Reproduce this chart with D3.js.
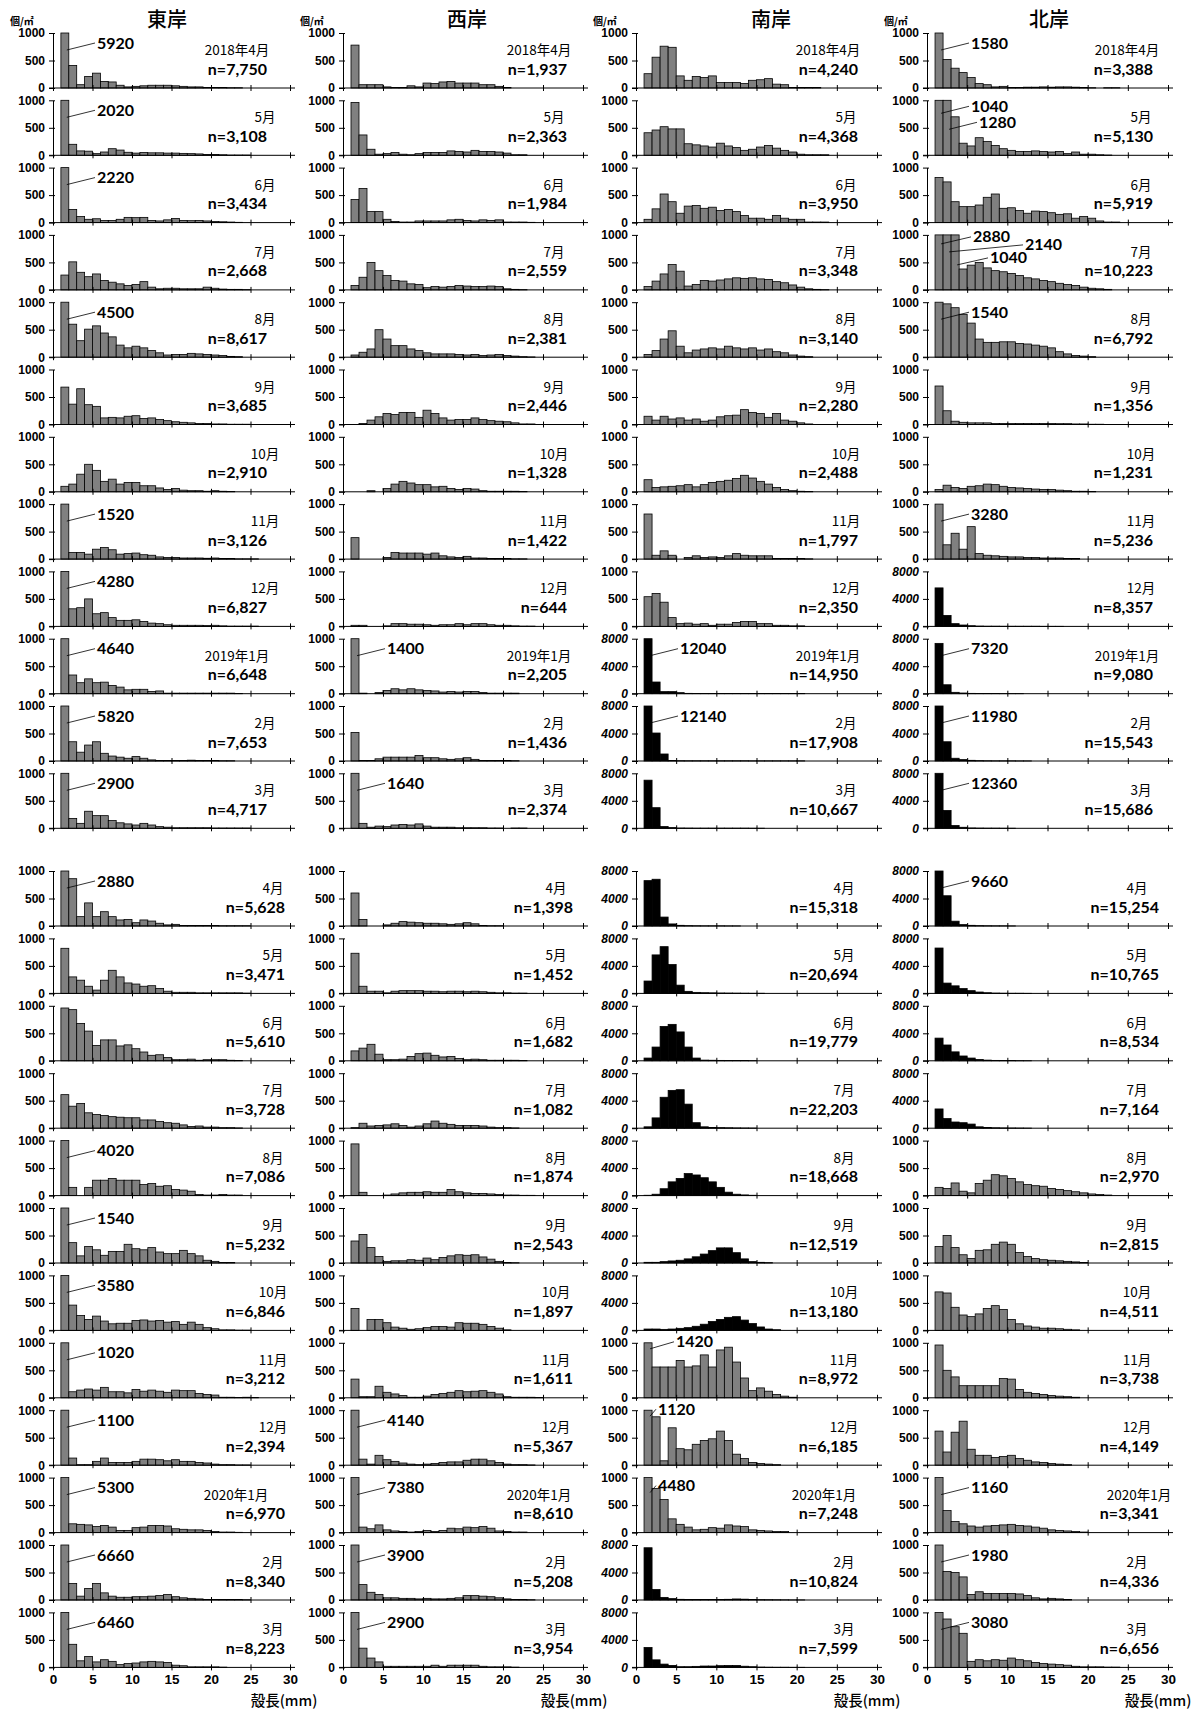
<!DOCTYPE html>
<html><head><meta charset="utf-8">
<script src="https://cdn.jsdelivr.net/npm/d3@7"></script>
<style>
body{margin:0;background:#fff;}
svg{display:block;}
.tk{font-family:'Liberation Sans Narrow','Liberation Sans',Arial,sans-serif;font-weight:bold;font-stretch:condensed;}
.num{font-family:Lato,'Open Sans',sans-serif;font-weight:bold;}
.jp{font-family:'Noto Sans CJK JP',sans-serif;}
</style></head><body>
<script>
// ---------------- DATA ----------------
const regions = ["東岸","西岸","南岸","北岸"];
const monthLabels = ["2018年4月","5月","6月","7月","8月","9月","10月","11月","12月","2019年1月","2月","3月",
                     "4月","5月","6月","7月","8月","9月","10月","11月","12月","2020年1月","2月","3月"];
const xTicks = [0,5,10,15,20,25,30];
const yTicksSmall = [0,500,1000];
const yTicksLarge = [0,4000,8000];
const binStart = 1; // first class: 1–2 mm, 1 mm classes

const nEast  = [7750,3108,3434,2668,8617,3685,2910,3126,6827,6648,7653,4717,5628,3471,5610,3728,7086,5232,6846,3212,2394,6970,8340,8223];
const nWest  = [1937,2363,1984,2559,2381,2446,1328,1422,644,2205,1436,2374,1398,1452,1682,1082,1874,2543,1897,1611,5367,8610,5208,3954];
const nSouth = [4240,4368,3950,3348,3140,2280,2488,1797,2350,14950,17908,10667,15318,20694,19779,22203,18668,12519,13180,8972,6185,7248,10824,7599];
const nNorth = [3388,5130,5919,10223,6792,1356,1231,5236,8357,9080,15543,15686,15254,10765,8534,7164,2970,2815,4511,3738,4149,3341,4336,6656];

// rows drawn on the 0–8000 scale (black bars)
const largeSouth = [9,10,11,12,13,14,15,16,17,18,22,23];
const largeNorth = [8,9,10,11,12,13,14,15];

const east = [
[5920,410,60,210,270,120,110,50,20,30,40,50,50,50,40,30,20,20,10,10,10,5,5],
[2020,200,80,75,30,60,120,95,55,40,50,45,45,40,40,35,30,25,15,15,10,5,5,5],
[2220,240,110,60,70,40,40,60,95,90,95,40,30,50,75,40,35,40,30,20,15,10,5],
[270,510,320,240,290,170,140,110,80,100,150,50,20,30,30,20,20,20,50,30,15,10,10,5],
[4500,600,300,510,570,440,370,220,170,200,170,120,80,40,50,50,70,60,50,40,30,15,10],
[680,370,650,360,330,120,130,120,150,160,110,120,90,70,50,40,30,20,20,10,10,5,5,5],
[100,140,320,500,390,190,230,140,170,170,110,110,70,40,60,30,20,20,10,20,10,5],
[1520,120,120,90,180,210,170,90,100,110,80,70,40,30,30,20,20,20,15,20,10,10,5,5,5],
[4280,320,340,500,230,250,160,110,110,120,90,60,50,30,20,20,20,20,15,20,10,5,5,5,5],
[4640,340,200,270,200,210,150,120,70,80,80,40,50,10,10,10,10,10,10,10,10,10,5],
[5820,350,160,290,350,140,90,70,50,80,50,20,10,10,10,10,15,10,10,10,5,5],
[2900,180,90,310,230,230,140,100,80,60,90,60,30,20,10,10,10,10,10,5,5,5,5,5],
[2880,860,170,420,170,260,170,110,120,60,110,90,50,20,30,10,10,10,10,10,5,5,5,5],
[820,300,240,130,60,240,420,300,190,170,130,140,90,40,20,20,20,10,10,10,10,10,10,5],
[960,930,680,540,280,380,380,270,290,220,160,100,110,60,20,20,30,10,20,20,20,10,5],
[610,400,450,280,250,230,210,200,190,190,150,150,120,100,90,60,30,40,20,20,10,10,5],
[4020,150,0,150,280,280,310,280,280,280,200,220,170,180,110,100,80,20,10,10,20,10,10],
[1540,370,130,300,240,140,210,210,340,260,240,280,200,170,170,230,170,130,50,30,10,10],
[3580,460,270,200,260,170,120,130,130,180,190,170,180,150,160,110,150,110,50,30,10,10,5,5],
[1020,110,140,160,140,190,110,110,90,150,120,140,120,100,140,130,130,80,60,50,10,10,5,10,5],
[1100,130,10,10,70,130,50,50,50,70,110,110,100,80,100,70,70,50,40,20,10,10,5,5],
[5300,160,150,140,110,130,100,40,40,90,100,130,130,120,70,60,50,50,40,20,10,10,5],
[6660,300,70,210,300,130,70,50,50,60,60,70,80,100,60,40,30,20,10,10,10,10,10,5],
[6460,420,120,200,100,140,110,50,70,80,100,110,100,90,40,30,10,10,10,10,5]
];
const west = [
[780,60,60,60,20,10,10,40,20,90,80,110,120,90,90,90,60,60,30,10],
[960,370,110,20,30,50,20,10,30,50,50,50,80,70,60,90,70,70,60,40,10,10],
[420,620,200,200,60,20,10,10,30,30,30,30,50,60,40,30,50,40,50,10,10,10,5],
[80,230,500,350,260,170,160,110,100,40,60,50,60,80,70,60,60,70,60,20,10,5],
[40,90,150,500,330,210,210,150,120,80,60,60,60,50,40,50,30,40,50,30,20,10,5],
[0,20,80,140,200,180,220,220,130,260,200,120,80,90,90,120,90,70,60,50,30,10,10],
[0,0,20,0,60,140,190,160,130,130,90,100,60,40,60,50,20,10,10,10,10,5],
[390,0,0,0,30,120,110,110,110,90,110,60,40,30,50,20,20,10,10,10,5,5],
[20,20,0,0,10,50,50,40,40,30,20,30,30,50,30,50,50,30,20,20,10,5,5],
[1400,10,0,20,60,90,70,90,70,60,50,30,40,30,40,40,20,10,10,10,10],
[520,10,10,40,70,70,70,70,100,60,60,40,30,40,60,30,10,10,10,10,5],
[1640,90,20,40,30,60,70,60,80,40,20,20,20,10,10,10,10,5,5,0,5,5],
[600,120,0,0,20,50,80,70,60,50,50,40,30,40,60,40,10,5,5],
[730,130,40,40,10,40,50,50,50,40,40,30,40,40,30,40,30,20,10,10,5,5],
[180,230,300,120,20,20,30,80,130,140,100,70,80,40,20,30,20,10,10,10,10,5],
[10,90,40,50,60,80,50,20,40,80,130,90,70,50,50,50,40,20,10,10,5],
[940,60,0,0,10,30,50,60,60,70,60,60,110,70,50,40,40,30,20,10,10,5,5],
[400,520,280,120,30,40,40,60,50,90,60,100,130,150,140,150,110,70,30,10,5],
[400,0,200,200,140,60,40,20,30,50,70,70,60,140,130,130,110,70,40,10],
[340,20,20,210,100,70,40,10,10,30,60,80,100,130,110,120,130,100,70,20,10,10,10,5],
[4140,110,20,180,100,70,40,20,10,20,30,50,60,60,90,110,110,80,50,20,10,10,5],
[7380,100,70,140,50,30,20,10,20,40,20,40,80,70,100,90,110,80,30,20,10,10],
[3900,280,140,100,40,40,30,30,20,30,20,20,30,40,80,80,70,60,40,20,10,10,5],
[2900,350,170,100,20,20,20,20,20,20,40,20,40,40,40,40,20,10,10,10,5]
];
const south = [
[260,560,760,740,220,140,210,190,220,100,100,100,80,140,150,170,70,60,10,10,10,10],
[410,460,520,480,480,210,190,170,150,220,170,140,90,110,150,180,130,90,60,20,10,10,10],
[60,250,520,380,170,300,310,260,280,220,240,200,130,80,80,60,130,80,60,60,10,10,10],
[60,160,290,460,340,70,100,170,160,180,200,220,210,220,200,190,150,130,90,50,20,10,5],
[50,120,330,480,200,80,130,150,170,150,200,170,150,170,130,150,100,80,40,20,10],
[150,80,150,100,120,80,100,60,80,140,160,170,270,220,200,130,200,80,60,30,10],
[220,80,90,100,110,130,90,130,170,190,210,240,300,250,190,140,80,40,20,10,5],
[820,70,150,70,0,30,60,30,40,30,60,100,70,60,60,60,10,10,10,10,5],
[540,600,440,160,50,60,40,50,20,40,40,70,90,90,50,50,20,20,10,10],
[12040,1700,300,300,150,50,40,30,30,30,30,30,20,20,20,20,20,20,20,20],
[12140,4070,1020,60,40,30,30,30,30,30,30,30,30,20,20,20,20,20,20,20],
[7000,3000,250,100,40,30,20,20,20,20,20,20,20,10,10],
[6600,6800,1300,300,100,50,30,20,20,20,10,10],
[1800,5600,6800,4200,1200,300,150,100,80,60,50,40,30,20,20],
[400,2000,5000,5300,4200,2000,400,100,80,60,50,40,30,20],
[200,1500,4500,5500,5600,3500,800,200,100,80,60,40,30,20],
[50,200,1000,2000,2500,3200,3000,2600,2000,1200,500,200,100,50],
[100,100,200,300,400,600,900,1300,1800,2200,2200,1500,600,200,100,50],
[200,200,150,200,300,400,600,900,1300,1600,1900,2000,1500,1000,500,200,100],
[1420,560,560,560,680,560,580,780,560,870,920,650,360,130,180,120,60,30,10],
[1120,880,80,680,300,280,380,450,480,620,450,200,120,50,30,20,10],
[4480,800,600,250,150,100,50,60,90,80,140,120,110,50,40,30,20,20],
[7600,1520,380,200,100,80,60,60,60,80,100,150,120,80,50,40,30,20,10,10],
[2900,1100,480,290,100,100,150,200,200,250,280,280,170,100,50,30,20,20,10,10]
];
const north = [
[1580,520,360,280,190,80,60,20,30,10,10,15,15,20,15,20,20,15,10,5,0,5,5],
[1040,1280,700,220,170,320,250,180,120,90,70,70,80,70,60,70,30,60,20,20,10,5],
[820,740,380,290,290,320,460,520,260,270,220,170,210,200,180,150,160,80,110,80,30,10,10],
[2880,2140,1040,380,450,500,400,350,330,300,260,220,200,170,150,120,100,80,50,30,20,10],
[1540,970,900,780,620,330,270,270,280,280,250,240,220,200,170,100,60,30,20,10],
[700,250,60,40,30,30,30,20,20,20,20,20,20,20,20,15,15,10,10,5,5],
[40,120,80,60,100,110,140,130,100,80,70,60,50,40,40,30,20,10,10,5],
[3280,260,470,180,590,100,70,60,50,40,40,30,30,20,20,20,10,10],
[5600,1600,400,200,100,50,30,30,20,20,20,20,20,10,10,10],
[7320,1300,200,100,50,30,20,20,10,10,10],
[11980,2800,400,200,100,50,30,20,20,20,10,10],
[12360,2600,400,150,50,30,20,20,10,10],
[9660,4400,700,200,100,50,30,20,20,10],
[6600,1500,1100,700,400,200,100,50,30,20,20,10],
[3300,2300,1300,700,400,200,100,60,40,30,20,10],
[2800,1400,900,800,600,200,100,60,40,30,20,10],
[150,130,230,80,50,220,280,380,360,310,250,200,180,170,130,110,90,70,50,30,20,10],
[300,500,280,150,80,230,240,340,380,340,190,120,80,60,50,40,30,20,10],
[700,680,420,280,250,300,400,450,380,200,120,80,60,40,40,30,20,10],
[960,500,380,220,220,220,220,220,350,340,150,100,80,60,40,30,20,10],
[620,240,600,800,290,180,180,140,160,180,120,90,60,50,30,20,10],
[1160,400,200,160,120,100,120,130,140,150,130,120,100,80,50,40,30,20,10],
[1980,520,500,420,100,150,120,120,120,120,110,80,40,20,30,20,10],
[3080,880,740,620,110,140,120,140,130,170,140,120,90,70,60,50,40,20,10,10,10,5,5]
];

// value call-outs: [column, row, bin index (0-based)]
const callouts = [
 [0,0,0],[0,1,0],[0,2,0],[0,4,0],[0,7,0],[0,8,0],[0,9,0],[0,10,0],[0,11,0],[0,12,0],
 [0,16,0],[0,17,0],[0,18,0],[0,19,0],[0,20,0],[0,21,0],[0,22,0],[0,23,0],
 [1,9,0],[1,11,0],[1,20,0],[1,21,0],[1,22,0],[1,23,0],
 [2,9,0],[2,10,0],[2,19,0],[2,20,0],[2,21,0],
 [3,0,0],[3,1,0],[3,1,1],[3,3,0],[3,3,1],[3,3,2],[3,4,0],[3,7,0],[3,9,0],[3,10,0],
 [3,11,0],[3,12,0],[3,21,0],[3,22,0],[3,23,0]
];

// ---------------- LAYOUT ----------------
const W = 1197, H = 1710;
const colX = [53, 343, 636, 927];
const colW = [237, 240, 241, 241];
const titleX = [167, 467, 771, 1049];
const plotH = 55;
const baseY = r => r < 12 ? 88 + r * 67.3 : 926 + (r - 12) * 67.4;
// text offsets from the axis origin, per block (top / bottom) and column
const nDx = [[214, 224, 222, 226], [232, 230, 222, 232]];
const monDx = [[212, 211, 210, 214], [220, 213, 208, 210]];
const yearDx = [[184, 196, 192, 200], [183, 196, 188, 212]];
const calloutPos = {
  "3-1-0":[44,-50], "3-1-1":[52,-34],
  "3-3-0":[46,-54], "3-3-1":[98,-46], "3-3-2":[63,-33],
  "2-19-0":[40,-57], "2-20-0":[22,-57], "2-21-0":[22,-48]
};

const dataCols = [east, west, south, north];
const nCols = [nEast, nWest, nSouth, nNorth];
const largeCols = [[], [], largeSouth, largeNorth];
const fmt = d3.format(",");

const svg = d3.select("body").append("svg").attr("width", W).attr("height", H);

regions.forEach((name, c) => {
  svg.append("text").attr("class","jp").attr("x", titleX[c]).attr("y", 18)
    .attr("text-anchor","middle").attr("dominant-baseline","central")
    .attr("font-size", 20).attr("font-weight", 500).text(name);
  svg.append("text").attr("class","jp").attr("x", colX[c] - 43).attr("y", 20)
    .attr("dominant-baseline","central").attr("font-size", 10).attr("font-weight","bold")
    .text("個/㎡");
  svg.append("text").attr("class","jp").attr("x", colX[c] + 231).attr("y", 1699)
    .attr("text-anchor","middle").attr("dominant-baseline","central")
    .attr("font-size", 14.5).attr("font-weight", 500).text("殻長(mm)");
});

for (let c = 0; c < 4; c++) {
  for (let r = 0; r < 24; r++) {
    const vals = dataCols[c][r];
    const large = largeCols[c].includes(r);
    const max = large ? 8000 : 1000;
    const blk = r < 12 ? 0 : 1;
    const g = svg.append("g").attr("transform", `translate(${colX[c]},${baseY(r) - plotH})`);
    const x = d3.scaleLinear().domain([0, 30]).range([0, colW[c]]);
    const y = d3.scaleLinear().domain([0, max]).range([plotH, 0]);

    // bars
    g.selectAll("rect.bar").data(vals.map((v, i) => ({v, i})).filter(d => d.v > 0))
      .join("rect").attr("class","bar")
      .attr("x", d => x(binStart + d.i))
      .attr("width", d => x(binStart + d.i + 1) - x(binStart + d.i))
      .attr("y", d => y(Math.min(d.v, max)))
      .attr("height", d => plotH - y(Math.min(d.v, max)))
      .attr("fill", large ? "#000" : "#808080")
      .attr("stroke", "#000").attr("stroke-width", 0.8);

    // y axis
    const ya = g.append("g").call(d3.axisLeft(y).tickValues(large ? yTicksLarge : yTicksSmall)
      .tickSizeInner(4).tickSizeOuter(0).tickFormat(d3.format("d")));
    ya.select(".domain").attr("stroke","#000").attr("stroke-width",1);
    ya.selectAll(".tick line").attr("x1", 2);
    ya.selectAll("text").attr("class","tk").attr("font-size", 12).attr("x", -8)
      .attr("font-style", large ? "italic" : "normal").attr("fill","#000");

    // x axis
    const xa = g.append("g").attr("transform", `translate(0,${plotH})`)
      .call(d3.axisBottom(x).tickValues(xTicks).tickSizeInner(3).tickSizeOuter(0));
    xa.select(".domain").attr("d", `M-4,0H${colW[c] + 5}`).attr("stroke","#000").attr("stroke-width",1);
    xa.selectAll(".tick line").attr("y1", -3);
    if (r === 23) {
      xa.selectAll("text").attr("class","tk").attr("font-size", 13.5).attr("y", 7).attr("fill","#000");
    } else {
      xa.selectAll("text").remove();
    }

    // month label
    const ml = monthLabels[r];
    const isYear = ml.includes("年");
    g.append("text").attr("class","jp").attr("x", isYear ? yearDx[blk][c] : monDx[blk][c]).attr("y", plotH - 39)
      .attr("text-anchor","middle").attr("dominant-baseline","central").attr("font-size", 13.5)
      .text(ml);
    // n label
    g.append("text").attr("class","num").attr("x", nDx[blk][c]).attr("y", plotH - 20)
      .attr("text-anchor","end").attr("dominant-baseline","central").attr("font-size", 16)
      .text("n=" + fmt(nCols[c][r]));
  }
}

// call-outs
callouts.forEach(([c, r, b]) => {
  const v = dataCols[c][r][b];
  const x = d3.scaleLinear().domain([0, 30]).range([0, colW[c]]);
  const pos = calloutPos[`${c}-${r}-${b}`] || [44, -46];
  const ox = colX[c], oy = baseY(r);
  const lx = ox + pos[0], ly = oy + pos[1];
  const bx = ox + x(binStart + b + 0.75);
  svg.append("line").attr("x1", bx).attr("y1", ly + 8).attr("x2", lx - 2).attr("y2", ly + 1)
    .attr("stroke","#000").attr("stroke-width", 0.8);
  svg.append("text").attr("class","num").attr("x", lx).attr("y", ly)
    .attr("dominant-baseline","central").attr("font-size", 16).text(v);
});
</script>
</body></html>
